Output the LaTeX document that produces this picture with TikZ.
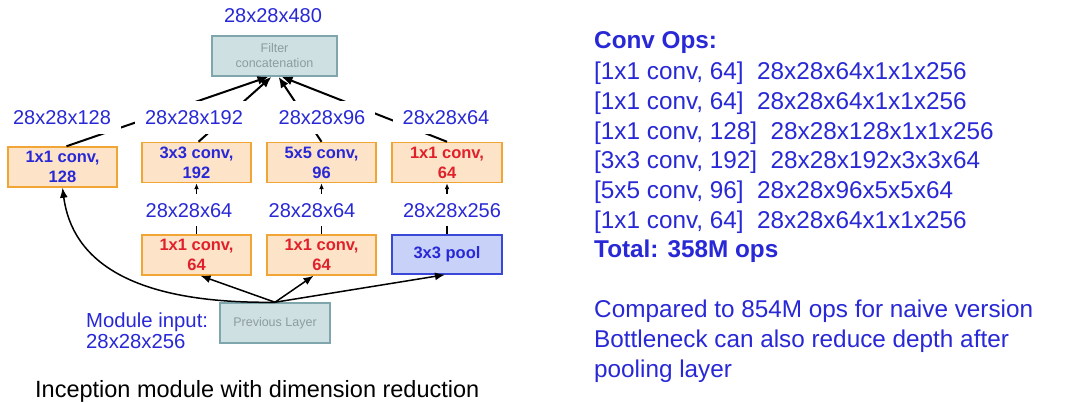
\documentclass[tikz,border=0pt]{standalone}
\usepackage{fontspec}
\setmainfont{Liberation Sans}
\usetikzlibrary{arrows.meta}
\definecolor{tblue}{HTML}{2828D6}
\definecolor{ofill}{HTML}{FDE4C8}
\definecolor{oborder}{HTML}{F0A535}
\definecolor{ored}{HTML}{E0202A}
\definecolor{pfill}{HTML}{C8D2F8}
\definecolor{pborder}{HTML}{3A48D8}
\definecolor{gfill}{HTML}{CFE0E3}
\definecolor{gborder}{HTML}{7FA6AC}
\definecolor{gtext}{HTML}{8C9C9F}
\tikzset{
  obox/.style={draw=oborder, fill=ofill, line width=1.5pt, minimum width=109pt, minimum height=40pt, inner sep=0pt, align=center, font=\fontsize{16.5}{20}\selectfont\bfseries},
  pbox/.style={draw=pborder, fill=pfill, line width=1.5pt, minimum width=110pt, minimum height=39pt, inner sep=0pt, align=center, text=tblue, font=\fontsize{16.5}{20}\selectfont\bfseries},
  gbox/.style={draw=gborder, fill=gfill, line width=1.5pt, minimum height=40pt, inner sep=0pt, align=center, text=gtext, font=\fontsize{12.5}{15}\selectfont},
  dlabel/.style={fill=white, inner xsep=10pt, inner ysep=9pt, text height=14.5pt, text depth=0pt, text=tblue, font=\fontsize{20}{24}\selectfont},
  rtext/.style={anchor=base west, inner sep=0pt, text=tblue, font=\fontsize{24.3}{28}\selectfont},
  catarrow/.style={line width=2pt, -{Latex[length=11pt,width=9pt]}},
  inarrow/.style={line width=1.5pt, -{Latex[length=10pt,width=8pt]}},
  uparrow/.style={line width=1.2pt, -{Latex[length=6pt,width=5pt]}}
}
\begin{document}
\begin{tikzpicture}[x=1pt,y=-1pt]
\useasboundingbox (0,0) rectangle (1086,403);
\clip (0,0) rectangle (1086,403);
\fill[white] (0,0) rectangle (1086,403);

% boxes
\node[gbox, minimum width=125pt] (concat) at (274.5,56) {Filter\\concatenation};
\node[obox, text=tblue] (b1) at (62.5,167) {1x1 conv,\\128};
\node[obox, text=tblue] (b2) at (196.5,162.5) {3x3 conv,\\192};
\node[obox, text=tblue] (b3) at (321.5,162.5) {5x5 conv,\\96};
\node[obox, text=ored, minimum width=110pt] (b4) at (447,162.5) {1x1 conv,\\64};
\node[obox, text=ored] (c1) at (196.5,255) {1x1 conv,\\64};
\node[obox, text=ored] (c2) at (321.5,255) {1x1 conv,\\64};
\node[pbox] (pool) at (447,254.5) {3x3 pool};
\node[gbox, minimum width=110pt] (prev) at (275,323) {Previous Layer};

% connectors
\draw[catarrow] ([xshift=4pt]b1.north) -- ([xshift=-6pt]concat.south);
\draw[catarrow] ([xshift=2pt]b2.north) -- ([xshift=-3pt]concat.south);
\draw[catarrow] (b3.north) -- ([xshift=4pt]concat.south);
\draw[catarrow] (b4.north) -- ([xshift=7pt]concat.south);
\draw[uparrow] (c1.north) -- (b2.south);
\draw[uparrow] (c2.north) -- (b3.south);
\draw[uparrow] (pool.north) -- (b4.south);
\draw[inarrow] (prev.north) -- ([xshift=4pt]c1.south);
\draw[inarrow] (prev.north) -- ([xshift=-8pt]c2.south);
\draw[inarrow] (prev.north) -- ([xshift=-2pt]pool.south);
\draw[inarrow] (prev.north) .. controls (130,304) and (72,260) .. (b1.south);

% dimension labels
\node[dlabel] (l480) at (273,15) {28x28x480};
\node[dlabel] (l128) at (62,117.5) {28x28x128};
\node[dlabel] (l192) at (194,117.5) {28x28x192};
\node[dlabel] (l96) at (322,117.5) {28x28x96};
\node[dlabel] (l64a) at (446,117.5) {28x28x64};
\node[dlabel] (l64b) at (189,210) {28x28x64};
\node[dlabel] (l64c) at (312,210) {28x28x64};
\node[dlabel] (l256) at (452,210) {28x28x256};
\node[rtext, font=\fontsize{20.3}{24}\selectfont] (min1) at (86,327) {Module input:};
\node[rtext, font=\fontsize{20.3}{24}\selectfont] (min2) at (86,348) {28x28x256};

% caption
\node[anchor=base west, inner sep=0pt, font=\fontsize{23.5}{28}\selectfont] (cap) at (35,397.5) {Inception module with dimension reduction};

% right panel
\node[rtext, font=\fontsize{24.3}{28}\selectfont\bfseries] (t0) at (594,49) {Conv Ops:};
\node[rtext] (t1) at (594,80) {[1x1 conv, 64]\ \ 28x28x64x1x1x256};
\node[rtext] (t2) at (594,110) {[1x1 conv, 64]\ \ 28x28x64x1x1x256};
\node[rtext] (t3) at (594,139.5) {[1x1 conv, 128]\ \ 28x28x128x1x1x256};
\node[rtext] (t4) at (594,169) {[3x3 conv, 192]\ \ 28x28x192x3x3x64};
\node[rtext] (t5) at (594,199) {[5x5 conv, 96]\ \ 28x28x96x5x5x64};
\node[rtext] (t6) at (594,228.5) {[1x1 conv, 64]\ \ 28x28x64x1x1x256};
\node[rtext, font=\fontsize{24.3}{28}\selectfont\bfseries] (t7) at (594,258) {Total: 358M ops};
\node[rtext] (t8) at (594,317) {Compared to 854M ops for naive version};
\node[rtext] (t9) at (594,347) {Bottleneck can also reduce depth after};
\node[rtext] (t10) at (594,377) {pooling layer};
\end{tikzpicture}
\end{document}
